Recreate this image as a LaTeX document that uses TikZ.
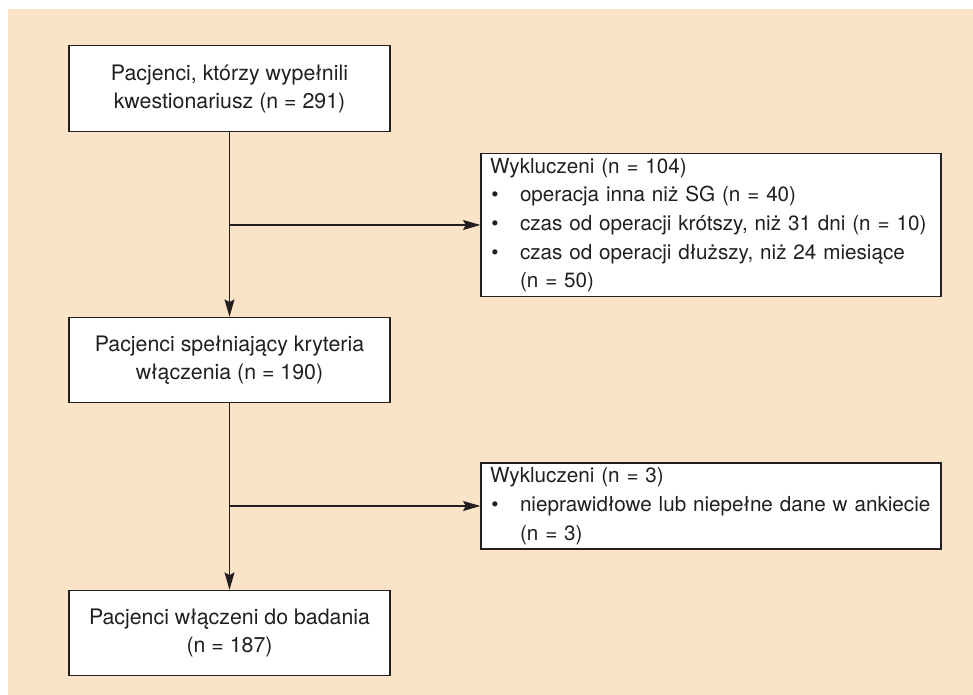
\documentclass[tikz,border=0pt]{standalone}
\usepackage{fontspec}
\setmainfont{TeX Gyre Heros}
\usetikzlibrary{arrows.meta,positioning}
\definecolor{bgpeach}{HTML}{FAE3C6}
\definecolor{inkline}{HTML}{231F20}
\tikzset{
  box/.style={draw=inkline, fill=white, line width=0.9pt, text=inkline,
    minimum width=240.75pt, minimum height=64pt, align=center,
    font=\fontsize{16}{21}\selectfont},
  exbox/.style={draw=inkline, fill=white, line width=0.9pt, text=inkline,
    text width=331.5pt, inner xsep=6.75pt, align=left,
    font=\fontsize{15.5}{21.5}\selectfont},
  flow/.style={draw=inkline, line width=0.9pt, -{Stealth[length=13pt,width=7.5pt,inset=2pt]}}
}
\newcommand{\itm}[1]{\mbox{\makebox[22.5pt][l]{\hspace{1pt}\textbullet}#1}}
\begin{document}
\begin{tikzpicture}[x=0.75pt, y=-0.75pt]
  % Background
  \useasboundingbox (0,0) rectangle (973,695);
  \fill[bgpeach] (8,9) rectangle (973,695);

  % Nodes
  \node[box] (ankieta) at (229.5, 88.5) {Pacjenci, którzy wypełnili\\kwestionariusz (n = 291)};
  \node[exbox, minimum height=103.5pt] (wykl1) at (711, 225)
    {Wykluczeni (n = 104)\\
     \itm{operacja inna niż SG (n = 40)}\\
     \itm{czas od operacji krótszy, niż 31 dni (n = 10)}\\
     \itm{czas od operacji dłuższy, niż 24 miesiące}\\
     \hspace*{22.5pt}(n = 50)};
  \node[box] (kryteria) at (229.5, 360) {Pacjenci spełniający kryteria\\włączenia (n = 190)};
  \node[exbox, minimum height=64.5pt] (wykl2) at (711, 506)
    {Wykluczeni (n = 3)\\
     \itm{nieprawidłowe lub niepełne dane w ankiecie}\\
     \hspace*{22.5pt}(n = 3)};
  \node[box] (badanie) at (229.5, 633) {Pacjenci włączeni do badania\\(n = 187)};

  % Coordinates
  \coordinate (rozw1) at (ankieta.south |- wykl1.west);
  \coordinate (rozw2) at (kryteria.south |- wykl2.west);

  % Drawing
  \draw[flow] (ankieta) -- (kryteria);
  \draw[flow] (rozw1) -- (wykl1);
  \draw[flow] (kryteria) -- (badanie);
  \draw[flow] (rozw2) -- (wykl2);
\end{tikzpicture}
\end{document}
